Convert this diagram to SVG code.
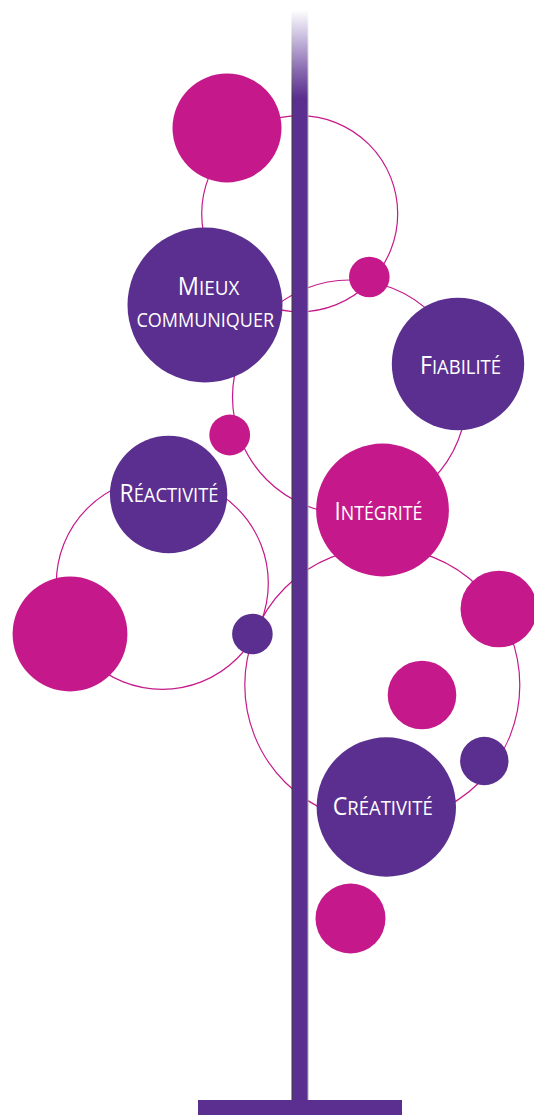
<svg xmlns="http://www.w3.org/2000/svg" width="534" height="1115" viewBox="0 0 534 1115">
  <style>
    .ring { fill: none; stroke: #c5198b; stroke-width: 1.2; }
    .pink { fill: #c5198b; }
    .purple { fill: #5b2f8f; }
    .label { font-family: "Open Sans", "Noto Sans", "Liberation Sans", sans-serif; font-size: 25px; font-variant: small-caps; fill: #ffffff; }
    .sc { font-size: 28px; }
  </style>
  <defs>
    <linearGradient id="poleFade" x1="0" y1="10" x2="0" y2="98" gradientUnits="userSpaceOnUse">
      <stop offset="0" stop-color="#ffffff"/>
      <stop offset="0.3" stop-color="#cbbfe0"/>
      <stop offset="0.7" stop-color="#8667ae"/>
      <stop offset="1" stop-color="#5b2f8f"/>
    </linearGradient>
    <linearGradient id="edgeFadeL" x1="0" y1="10" x2="0" y2="98" gradientUnits="userSpaceOnUse">
      <stop offset="0" stop-color="#ffffff"/>
      <stop offset="1" stop-color="#3a3a3a"/>
    </linearGradient>
    <linearGradient id="edgeFadeR" x1="0" y1="10" x2="0" y2="98" gradientUnits="userSpaceOnUse">
      <stop offset="0" stop-color="#ffffff"/>
      <stop offset="1" stop-color="#b0b0b0"/>
    </linearGradient>
  </defs>

  <!-- thin rings linking the bubbles -->
  <g id="connectors">
    <circle class="ring" cx="299.7" cy="213.7" r="98"/>
    <circle class="ring" cx="349.5" cy="397" r="117"/>
    <circle class="ring" cx="162.3" cy="583.3" r="106"/>
    <circle class="ring" cx="382.3" cy="685" r="137.5"/>
  </g>

  <!-- trunk and foot -->
  <g id="pole">
    <rect x="292" y="98" width="16" height="1002" fill="#5b2f8f"/>
    <rect x="292" y="10" width="16" height="88" fill="url(#poleFade)"/>
    <rect x="291.5" y="10" width="1" height="88" fill="url(#edgeFadeL)"/>
    <rect x="307.5" y="10" width="1" height="88" fill="url(#edgeFadeR)"/>
    <rect x="291.5" y="98" width="1" height="1002" fill="#3a3a3a"/>
    <rect x="307.5" y="98" width="1" height="1002" fill="#b0b0b0"/>
    <rect x="198" y="1100" width="204" height="15" fill="#5b2f8f"/>
  </g>

  <g id="dot-top"><circle class="pink" cx="227" cy="128" r="54.5"/></g>

  <g id="node-mieux-communiquer">
    <circle class="purple" cx="205" cy="305" r="77.5"/>
    <text class="label" x="177.7" y="294.5" textLength="61.6" lengthAdjust="spacingAndGlyphs">M<tspan class="sc">ieux</tspan></text>
    <text class="label sc" x="136.5" y="327" textLength="137.5" lengthAdjust="spacingAndGlyphs">communiquer</text>
  </g>

  <g id="dot-upper-right"><circle class="pink" cx="369.3" cy="277" r="20.3"/></g>

  <g id="node-fiabilite">
    <circle class="purple" cx="458" cy="364" r="66.2"/>
    <text class="label" x="420" y="374" textLength="81" lengthAdjust="spacingAndGlyphs">F<tspan class="sc">iabilité</tspan></text>
  </g>

  <g id="dot-mid-left"><circle class="pink" cx="229.7" cy="435" r="20.4"/></g>

  <g id="node-reactivite">
    <circle class="purple" cx="168.6" cy="494.5" r="58.7"/>
    <text class="label" x="119.5" y="502" textLength="99" lengthAdjust="spacingAndGlyphs">R<tspan class="sc">éactivité</tspan></text>
  </g>

  <g id="node-integrite">
    <circle class="pink" cx="382.5" cy="510" r="66.4"/>
    <text class="label" x="334.5" y="519.5" textLength="88" lengthAdjust="spacingAndGlyphs">I<tspan class="sc">ntégrité</tspan></text>
  </g>

  <g id="dot-big-left"><circle class="pink" cx="70" cy="634" r="57.4"/></g>
  <g id="dot-small-purple"><circle class="purple" cx="252.4" cy="634" r="20.3"/></g>
  <g id="dot-right-edge"><circle class="pink" cx="498.8" cy="609" r="38.3"/></g>
  <g id="dot-inner-right"><circle class="pink" cx="422" cy="695" r="34.3"/></g>
  <g id="dot-purple-right"><circle class="purple" cx="484.3" cy="761" r="24.2"/></g>

  <g id="node-creativite">
    <circle class="purple" cx="386.3" cy="807" r="69.7"/>
    <text class="label" x="332.7" y="815" textLength="100" lengthAdjust="spacingAndGlyphs">C<tspan class="sc">réativité</tspan></text>
  </g>

  <g id="dot-bottom"><circle class="pink" cx="350.5" cy="918.5" r="35"/></g>
</svg>
